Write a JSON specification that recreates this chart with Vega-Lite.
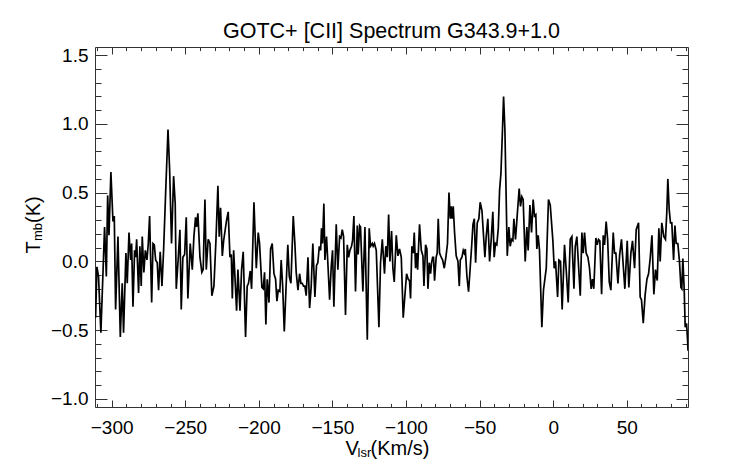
{
  "$schema": "https://vega.github.io/schema/vega-lite/v6.json",
  "description": "GOTC+ [CII] spectrum toward G343.9+1.0",
  "width": 593,
  "height": 360,
  "autosize": "none",
  "padding": {"left": 95, "top": 47, "right": 54, "bottom": 57},
  "title": {"text": "GOTC+ [CII] Spectrum G343.9+1.0", "font": "Liberation Sans", "fontSize": 21.5, "fontWeight": "normal", "color": "#000"},
  "data": {
    "values": [
      {"v": -312.0, "t": -0.36}, {"v": -310.9, "t": -0.41}, {"v": -310.0, "t": -0.04}, {"v": -308.9, "t": -0.11},
      {"v": -307.3, "t": -0.52}, {"v": -304.8, "t": 0.25}, {"v": -303.6, "t": -0.11}, {"v": -302.7, "t": 0.48},
      {"v": -301.8, "t": 0.19}, {"v": -300.5, "t": 0.65}, {"v": -299.1, "t": 0.29}, {"v": -298.2, "t": 0.33},
      {"v": -297.3, "t": -0.35}, {"v": -295.7, "t": 0.18}, {"v": -294.1, "t": -0.55}, {"v": -292.8, "t": -0.16},
      {"v": -291.9, "t": -0.52}, {"v": -290.3, "t": 0.06}, {"v": -289.4, "t": -0.16}, {"v": -288.2, "t": 0.21},
      {"v": -287.1, "t": 0.01}, {"v": -286.4, "t": 0.13}, {"v": -285.5, "t": -0.33}, {"v": -284.4, "t": 0.08},
      {"v": -283.7, "t": 0.03}, {"v": -283.0, "t": 0.16}, {"v": -281.7, "t": -0.23}, {"v": -280.8, "t": 0.11},
      {"v": -279.9, "t": -0.18}, {"v": -279.2, "t": 0.18}, {"v": -278.1, "t": -0.08}, {"v": -277.1, "t": 0.08},
      {"v": -276.0, "t": 0.01}, {"v": -275.1, "t": 0.13}, {"v": -274.2, "t": 0.33}, {"v": -272.8, "t": -0.30},
      {"v": -271.9, "t": 0.13}, {"v": -271.0, "t": 0.12}, {"v": -270.1, "t": 0.01}, {"v": -269.0, "t": -0.01},
      {"v": -268.1, "t": -0.21}, {"v": -267.0, "t": 0.07}, {"v": -265.8, "t": -0.18}, {"v": -264.7, "t": 0.08},
      {"v": -263.3, "t": 0.50}, {"v": -261.7, "t": 0.96}, {"v": -260.6, "t": 0.67}, {"v": -259.3, "t": 0.13},
      {"v": -257.9, "t": 0.62}, {"v": -256.8, "t": 0.42}, {"v": -256.1, "t": -0.20}, {"v": -254.7, "t": 0.03},
      {"v": -253.6, "t": 0.23}, {"v": -252.7, "t": -0.35}, {"v": -251.6, "t": 0.03}, {"v": -250.4, "t": 0.05},
      {"v": -249.3, "t": 0.32}, {"v": -248.2, "t": -0.27}, {"v": -246.6, "t": 0.13}, {"v": -245.2, "t": -0.06},
      {"v": -244.1, "t": 0.18}, {"v": -243.0, "t": 0.32}, {"v": -242.3, "t": 0.25}, {"v": -241.4, "t": 0.35},
      {"v": -240.0, "t": 0.03}, {"v": -238.7, "t": -0.08}, {"v": -237.8, "t": -0.06}, {"v": -236.6, "t": 0.45},
      {"v": -235.7, "t": -0.06}, {"v": -234.4, "t": 0.16}, {"v": -233.2, "t": 0.13}, {"v": -231.9, "t": -0.25},
      {"v": -230.5, "t": -0.18}, {"v": -229.1, "t": 0.16}, {"v": -227.8, "t": 0.55}, {"v": -226.9, "t": 0.18},
      {"v": -226.0, "t": 0.39}, {"v": -224.8, "t": 0.04}, {"v": -223.9, "t": 0.15}, {"v": -221.9, "t": 0.30},
      {"v": -220.8, "t": 0.36}, {"v": -219.6, "t": 0.03}, {"v": -218.7, "t": 0.05}, {"v": -218.0, "t": -0.27},
      {"v": -217.1, "t": 0.08}, {"v": -216.0, "t": -0.16}, {"v": -215.1, "t": -0.36}, {"v": -214.2, "t": -0.06},
      {"v": -212.8, "t": -0.36}, {"v": -211.7, "t": -0.06}, {"v": -210.6, "t": 0.07}, {"v": -209.0, "t": -0.55},
      {"v": -207.9, "t": -0.18}, {"v": -207.0, "t": -0.16}, {"v": -205.8, "t": -0.07}, {"v": -204.9, "t": -0.20},
      {"v": -203.3, "t": 0.43}, {"v": -201.7, "t": -0.05}, {"v": -200.4, "t": 0.21}, {"v": -199.5, "t": 0.13},
      {"v": -197.9, "t": -0.19}, {"v": -197.0, "t": -0.20}, {"v": -196.1, "t": -0.08}, {"v": -195.2, "t": -0.46},
      {"v": -194.3, "t": -0.13}, {"v": -193.1, "t": -0.30}, {"v": -192.0, "t": 0.09}, {"v": -190.9, "t": 0.13},
      {"v": -189.7, "t": -0.09}, {"v": -188.6, "t": -0.13}, {"v": -187.7, "t": -0.29}, {"v": -186.8, "t": -0.21},
      {"v": -185.7, "t": -0.22}, {"v": -184.8, "t": 0.01}, {"v": -183.8, "t": -0.18}, {"v": -182.7, "t": -0.51},
      {"v": -181.6, "t": -0.22}, {"v": -180.3, "t": 0.12}, {"v": -179.3, "t": -0.11}, {"v": -178.2, "t": -0.16},
      {"v": -176.6, "t": 0.33}, {"v": -175.5, "t": 0.13}, {"v": -174.6, "t": -0.08}, {"v": -173.4, "t": -0.21},
      {"v": -172.3, "t": -0.09}, {"v": -171.4, "t": -0.16}, {"v": -170.5, "t": -0.16}, {"v": -169.6, "t": -0.18},
      {"v": -168.7, "t": -0.18}, {"v": -167.8, "t": -0.25}, {"v": -166.6, "t": 0.03}, {"v": -165.5, "t": -0.34},
      {"v": -164.4, "t": -0.18}, {"v": -163.3, "t": 0.13}, {"v": -161.9, "t": -0.26}, {"v": -160.8, "t": -0.03},
      {"v": -159.9, "t": -0.01}, {"v": -158.9, "t": 0.11}, {"v": -158.0, "t": 0.08}, {"v": -157.4, "t": 0.24},
      {"v": -156.7, "t": 0.13}, {"v": -155.8, "t": 0.42}, {"v": -155.1, "t": 0.01}, {"v": -154.0, "t": 0.18},
      {"v": -153.1, "t": -0.01}, {"v": -151.9, "t": -0.28}, {"v": -150.8, "t": -0.04}, {"v": -149.9, "t": 0.08},
      {"v": -149.0, "t": -0.33}, {"v": -147.4, "t": 0.27}, {"v": -146.3, "t": -0.06}, {"v": -145.1, "t": 0.18},
      {"v": -144.2, "t": 0.17}, {"v": -143.3, "t": 0.23}, {"v": -142.4, "t": 0.18}, {"v": -141.1, "t": -0.39},
      {"v": -139.9, "t": 0.12}, {"v": -139.0, "t": 0.03}, {"v": -138.1, "t": 0.08}, {"v": -137.0, "t": 0.11},
      {"v": -136.3, "t": 0.15}, {"v": -135.4, "t": 0.33}, {"v": -134.3, "t": -0.22}, {"v": -133.1, "t": 0.26},
      {"v": -132.5, "t": 0.05}, {"v": -131.5, "t": 0.26}, {"v": -130.9, "t": 0.25}, {"v": -129.3, "t": -0.22},
      {"v": -127.9, "t": 0.25}, {"v": -126.3, "t": -0.57}, {"v": -125.0, "t": 0.24}, {"v": -124.1, "t": 0.11},
      {"v": -122.9, "t": 0.13}, {"v": -122.3, "t": 0.11}, {"v": -121.4, "t": 0.13}, {"v": -120.2, "t": 0.08},
      {"v": -118.4, "t": -0.48}, {"v": -117.3, "t": -0.01}, {"v": -116.1, "t": 0.16}, {"v": -114.6, "t": -0.09},
      {"v": -113.7, "t": 0.11}, {"v": -112.7, "t": 0.03}, {"v": -111.8, "t": 0.34}, {"v": -110.9, "t": 0.00},
      {"v": -109.8, "t": 0.22}, {"v": -108.9, "t": -0.05}, {"v": -108.0, "t": -0.15}, {"v": -106.6, "t": 0.19},
      {"v": -105.5, "t": 0.04}, {"v": -104.4, "t": 0.09}, {"v": -103.2, "t": 0.03}, {"v": -101.9, "t": -0.41},
      {"v": -100.7, "t": -0.24}, {"v": -99.6, "t": -0.09}, {"v": -98.5, "t": -0.13}, {"v": -97.6, "t": -0.14},
      {"v": -96.9, "t": -0.27}, {"v": -96.0, "t": 0.11}, {"v": -95.1, "t": 0.06}, {"v": -94.4, "t": 0.21},
      {"v": -93.5, "t": -0.05}, {"v": -92.8, "t": 0.06}, {"v": -92.1, "t": -0.06}, {"v": -90.8, "t": 0.27},
      {"v": -89.6, "t": 0.08}, {"v": -88.5, "t": 0.04}, {"v": -87.8, "t": -0.18}, {"v": -86.7, "t": 0.12},
      {"v": -85.8, "t": 0.09}, {"v": -85.1, "t": -0.20}, {"v": -84.2, "t": -0.01}, {"v": -83.3, "t": -0.09},
      {"v": -82.6, "t": -0.01}, {"v": -81.9, "t": 0.03}, {"v": -81.3, "t": 0.03}, {"v": -80.6, "t": -0.14},
      {"v": -79.5, "t": 0.03}, {"v": -78.8, "t": 0.06}, {"v": -78.1, "t": 0.31}, {"v": -77.2, "t": 0.06},
      {"v": -76.1, "t": 0.03}, {"v": -75.1, "t": 0.01}, {"v": -74.0, "t": -0.05}, {"v": -72.9, "t": 0.03},
      {"v": -71.8, "t": 0.13}, {"v": -70.8, "t": 0.50}, {"v": -69.9, "t": 0.31}, {"v": -69.3, "t": 0.40},
      {"v": -68.6, "t": 0.31}, {"v": -67.9, "t": 0.40}, {"v": -67.0, "t": 0.21}, {"v": -65.9, "t": 0.04},
      {"v": -64.7, "t": 0.00}, {"v": -63.8, "t": -0.18}, {"v": -63.1, "t": 0.01}, {"v": -62.0, "t": 0.03},
      {"v": -61.1, "t": 0.08}, {"v": -60.4, "t": 0.06}, {"v": -59.7, "t": 0.09}, {"v": -58.6, "t": -0.11},
      {"v": -57.5, "t": -0.22}, {"v": -56.4, "t": -0.05}, {"v": -55.4, "t": 0.11}, {"v": -54.5, "t": 0.27},
      {"v": -53.6, "t": 0.31}, {"v": -52.7, "t": -0.01}, {"v": -51.6, "t": 0.28}, {"v": -50.5, "t": 0.31},
      {"v": -49.6, "t": 0.43}, {"v": -48.4, "t": 0.37}, {"v": -46.4, "t": 0.03}, {"v": -45.5, "t": 0.18},
      {"v": -44.4, "t": 0.31}, {"v": -43.2, "t": 0.00}, {"v": -42.1, "t": 0.16}, {"v": -41.0, "t": 0.36},
      {"v": -40.1, "t": 0.03}, {"v": -39.2, "t": 0.13}, {"v": -38.3, "t": 0.12}, {"v": -37.3, "t": 0.24},
      {"v": -36.4, "t": 0.52}, {"v": -35.5, "t": 0.64}, {"v": -34.6, "t": 0.91}, {"v": -33.7, "t": 1.20},
      {"v": -32.8, "t": 0.96}, {"v": -31.2, "t": 0.04}, {"v": -30.1, "t": 0.25}, {"v": -29.2, "t": 0.11},
      {"v": -28.3, "t": 0.16}, {"v": -27.4, "t": 0.15}, {"v": -26.7, "t": 0.31}, {"v": -25.6, "t": 0.16},
      {"v": -24.4, "t": 0.34}, {"v": -23.1, "t": 0.53}, {"v": -22.2, "t": 0.40}, {"v": -21.3, "t": 0.47},
      {"v": -20.4, "t": 0.45}, {"v": -19.0, "t": 0.00}, {"v": -17.9, "t": 0.25}, {"v": -17.0, "t": 0.08},
      {"v": -15.8, "t": 0.41}, {"v": -14.7, "t": 0.21}, {"v": -13.6, "t": 0.45}, {"v": -12.7, "t": 0.33},
      {"v": -11.8, "t": 0.34}, {"v": -11.1, "t": 0.09}, {"v": -10.2, "t": 0.19}, {"v": -9.3, "t": 0.08},
      {"v": -7.7, "t": -0.48}, {"v": -6.6, "t": -0.21}, {"v": -4.7, "t": -0.05}, {"v": -3.2, "t": 0.45},
      {"v": -2.0, "t": 0.41}, {"v": -0.2, "t": 0.15}, {"v": 0.7, "t": -0.05}, {"v": 1.6, "t": 0.00},
      {"v": 3.0, "t": -0.26}, {"v": 3.9, "t": 0.01}, {"v": 5.0, "t": 0.00}, {"v": 6.1, "t": -0.35},
      {"v": 7.7, "t": 0.12}, {"v": 8.9, "t": -0.07}, {"v": 10.2, "t": -0.30}, {"v": 11.6, "t": 0.16},
      {"v": 12.7, "t": 0.18}, {"v": 14.1, "t": -0.20}, {"v": 15.0, "t": 0.11}, {"v": 16.1, "t": 0.18},
      {"v": 18.4, "t": -0.25}, {"v": 19.5, "t": 0.21}, {"v": 20.4, "t": 0.06}, {"v": 21.3, "t": 0.21},
      {"v": 22.4, "t": 0.06}, {"v": 23.6, "t": 0.03}, {"v": 24.7, "t": -0.05}, {"v": 25.8, "t": -0.20},
      {"v": 26.7, "t": -0.13}, {"v": 27.6, "t": -0.20}, {"v": 29.0, "t": 0.17}, {"v": 29.9, "t": 0.12},
      {"v": 30.8, "t": 0.16}, {"v": 31.7, "t": 0.15}, {"v": 32.9, "t": -0.24}, {"v": 34.0, "t": 0.19},
      {"v": 34.9, "t": 0.12}, {"v": 36.0, "t": 0.29}, {"v": 37.0, "t": 0.16}, {"v": 38.1, "t": -0.15},
      {"v": 39.2, "t": -0.21}, {"v": 40.8, "t": 0.21}, {"v": 41.7, "t": 0.06}, {"v": 42.6, "t": 0.06},
      {"v": 44.0, "t": -0.16}, {"v": 45.1, "t": 0.04}, {"v": 46.4, "t": 0.16}, {"v": 47.8, "t": -0.06},
      {"v": 48.7, "t": -0.20}, {"v": 50.3, "t": 0.15}, {"v": 51.4, "t": -0.19}, {"v": 52.8, "t": 0.06},
      {"v": 53.9, "t": 0.15}, {"v": 55.3, "t": -0.05}, {"v": 56.4, "t": 0.23}, {"v": 58.0, "t": 0.28},
      {"v": 59.1, "t": -0.26}, {"v": 60.0, "t": -0.28}, {"v": 61.2, "t": -0.45}, {"v": 62.5, "t": -0.24},
      {"v": 63.7, "t": -0.13}, {"v": 64.8, "t": -0.09}, {"v": 65.9, "t": 0.02}, {"v": 67.1, "t": 0.19},
      {"v": 68.4, "t": -0.24}, {"v": 69.5, "t": -0.06}, {"v": 70.7, "t": -0.14}, {"v": 71.8, "t": 0.24},
      {"v": 72.7, "t": 0.00}, {"v": 73.8, "t": 0.28}, {"v": 75.2, "t": 0.18}, {"v": 76.3, "t": 0.16},
      {"v": 77.2, "t": 0.36}, {"v": 77.9, "t": 0.60}, {"v": 78.8, "t": 0.38}, {"v": 79.7, "t": 0.28},
      {"v": 80.6, "t": 0.28}, {"v": 81.8, "t": 0.01}, {"v": 82.7, "t": 0.26}, {"v": 83.6, "t": 0.13},
      {"v": 84.7, "t": 0.13}, {"v": 85.8, "t": 0.00}, {"v": 86.8, "t": -0.19}, {"v": 87.4, "t": -0.20},
      {"v": 88.1, "t": 0.02}, {"v": 89.0, "t": -0.20}, {"v": 89.7, "t": -0.48}, {"v": 90.6, "t": -0.45},
      {"v": 91.3, "t": -0.57}, {"v": 91.6, "t": -0.65}
    ]
  },
  "layer": [
    {
      "mark": {"type": "line", "color": "#000", "strokeWidth": 1.7, "clip": true},
      "encoding": {
        "x": {
          "field": "v", "type": "quantitative",
          "scale": {"domain": [-311.3, 91.6], "nice": false, "zero": false},
          "axis": {
            "orient": "bottom", "values": [-300, -250, -200, -150, -100, -50, 0, 50], "format": "d",
            "tickSize": -7, "labelPadding": 33, "labelBaseline": "alphabetic",
            "labelFlush": false, "labelOverlap": false,
            "title": "V", "titleFontSize": 20, "titleX": 250, "titleY": 47.5,
            "titleAlign": "left", "titleBaseline": "alphabetic"
          }
        },
        "y": {
          "field": "t", "type": "quantitative",
          "scale": {"domain": [-1.06, 1.56], "nice": false, "zero": false},
          "axis": {
            "orient": "left", "values": [-1, -0.5, 0, 0.5, 1, 1.5], "format": ".1f",
            "tickSize": -12, "labelPadding": 19, "labelOverlap": false,
            "title": "T", "titleFontSize": 20, "titleAngle": 270, "titleX": -56, "titleY": 206,
            "titleAlign": "left", "titleBaseline": "alphabetic"
          }
        }
      }
    },
    {
      "mark": {"type": "line", "opacity": 0},
      "encoding": {
        "x": {
          "field": "v", "type": "quantitative",
          "scale": {"domain": [-311.3, 91.6], "nice": false, "zero": false},
          "axis": {
            "orient": "bottom",
            "values": [-310, -290, -280, -270, -260, -240, -230, -220, -210, -190, -180, -170, -160, -140, -130, -120, -110, -90, -80, -70, -60, -40, -30, -20, -10, 10, 20, 30, 40, 60, 70, 80, 90],
            "labels": false, "tickSize": -3.6,
            "title": "lsr", "titleFontSize": 13, "titleX": 262, "titleY": 49.7,
            "titleAlign": "left", "titleBaseline": "alphabetic"
          }
        },
        "y": {
          "field": "t", "type": "quantitative",
          "scale": {"domain": [-1.06, 1.56], "nice": false, "zero": false},
          "axis": {
            "orient": "left",
            "values": [-0.9, -0.8, -0.7, -0.6, -0.4, -0.3, -0.2, -0.1, 0.1, 0.2, 0.3, 0.4, 0.6, 0.7, 0.8, 0.9, 1.1, 1.2, 1.3, 1.4],
            "labels": false, "tickSize": -6,
            "title": "mb", "titleFontSize": 13, "titleAngle": 270, "titleX": -54, "titleY": 193.5,
            "titleAlign": "left", "titleBaseline": "alphabetic"
          }
        }
      }
    },
    {
      "mark": {"type": "line", "opacity": 0},
      "encoding": {
        "x": {
          "field": "v", "type": "quantitative",
          "scale": {"domain": [-311.3, 91.6], "nice": false, "zero": false},
          "axis": {
            "orient": "top", "values": [-300, -250, -200, -150, -100, -50, 0, 50],
            "labels": false, "tickSize": -7,
            "title": "(Km/s)", "titleFontSize": 20, "titleX": 275, "titleY": 407.5,
            "titleAlign": "left", "titleBaseline": "alphabetic"
          }
        },
        "y": {
          "field": "t", "type": "quantitative",
          "scale": {"domain": [-1.06, 1.56], "nice": false, "zero": false},
          "axis": {
            "orient": "right", "values": [-1, -0.5, 0, 0.5, 1, 1.5],
            "labels": false, "tickSize": -12,
            "title": "(K)", "titleFontSize": 20, "titleAngle": 270, "titleX": -649, "titleY": 175.5,
            "titleAlign": "left", "titleBaseline": "alphabetic"
          }
        }
      }
    },
    {
      "mark": {"type": "line", "opacity": 0},
      "encoding": {
        "x": {
          "field": "v", "type": "quantitative",
          "scale": {"domain": [-311.3, 91.6], "nice": false, "zero": false},
          "axis": {
            "orient": "top",
            "values": [-310, -290, -280, -270, -260, -240, -230, -220, -210, -190, -180, -170, -160, -140, -130, -120, -110, -90, -80, -70, -60, -40, -30, -20, -10, 10, 20, 30, 40, 60, 70, 80, 90],
            "labels": false, "tickSize": -3.6, "title": null
          }
        },
        "y": {
          "field": "t", "type": "quantitative",
          "scale": {"domain": [-1.06, 1.56], "nice": false, "zero": false},
          "axis": {
            "orient": "right",
            "values": [-0.9, -0.8, -0.7, -0.6, -0.4, -0.3, -0.2, -0.1, 0.1, 0.2, 0.3, 0.4, 0.6, 0.7, 0.8, 0.9, 1.1, 1.2, 1.3, 1.4],
            "labels": false, "tickSize": -6, "title": null
          }
        }
      }
    }
  ],
  "resolve": {"axis": {"x": "independent", "y": "independent"}},
  "config": {
    "font": "Liberation Sans",
    "view": {"stroke": "#333", "strokeWidth": 1},
    "axis": {
      "domain": false, "grid": false, "ticks": true,
      "tickColor": "#333", "tickWidth": 1,
      "labelFont": "Liberation Sans", "labelFontSize": 19, "labelColor": "#000",
      "titleFont": "Liberation Sans", "titleFontWeight": "normal", "titleColor": "#000"
    }
  }
}
